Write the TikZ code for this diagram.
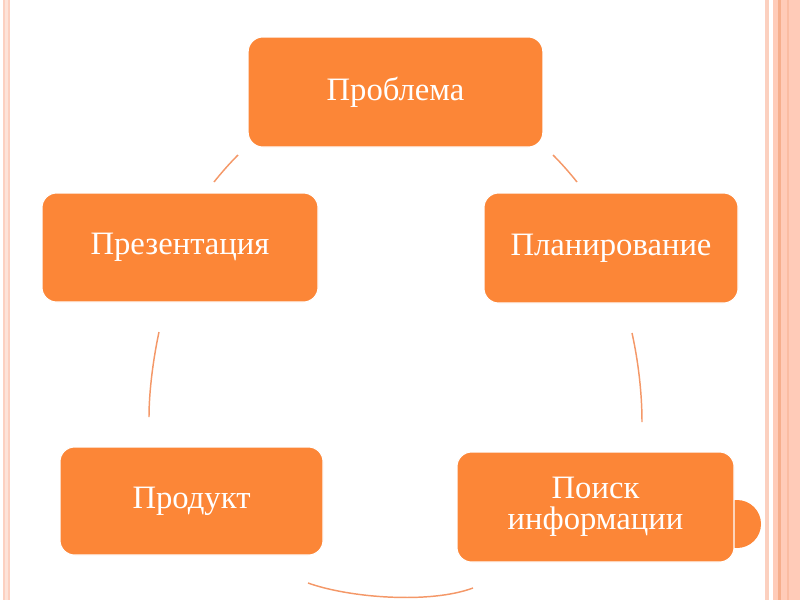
\documentclass[tikz,border=0pt]{standalone}
\usepackage{fontspec}
\setmainfont{Liberation Serif}
\definecolor{boxorange}{RGB}{252,134,55}
\definecolor{arcorange}{RGB}{244,152,104}
\definecolor{peach}{RGB}{255,203,184}
\definecolor{peachdark}{RGB}{246,174,140}
\definecolor{peachmid}{RGB}{250,188,162}
\definecolor{peachline}{RGB}{252,208,192}
\tikzset{
  stagebox/.style={draw=white, line width=0.8pt, fill=boxorange, rounded corners=11pt,
    text=white, font=\fontsize{24.5}{23.5}\selectfont, inner sep=0pt, align=center, anchor=center},
  cyclearc/.style={draw=arcorange, line width=1.1pt},
}
\begin{document}
\begin{tikzpicture}[x=0.75pt,y=-0.75pt]
\useasboundingbox (0,0) rectangle (800,600);
% page borders
\fill[peachline!60] (3.5,0) rectangle (9.5,600);
\draw[peachline, line width=0.9pt] (4,0) -- (4,600);
\draw[peachline, line width=0.9pt] (9,0) -- (9,600);
\fill[peachline] (764.5,0) rectangle (766.8,600);
\fill[peachmid!70] (766.8,0) rectangle (768.8,600);
\fill[peach] (773,0) rectangle (800,600);
\fill[peachdark] (778.3,0) rectangle (781,600);
\fill[peachmid] (786.5,0) rectangle (788.5,600);
% half disc behind search node
\node[circle, fill=boxorange, minimum size=36pt, inner sep=0pt] (tab) at (737,524) {};
% stages
\node[stagebox, minimum width=221pt, minimum height=82.5pt] (problem) at (395.5,92) {Проблема};
\node[stagebox, minimum width=190.5pt, minimum height=82.5pt] (plan) at (611,248) {Планирование};
\node[stagebox, minimum width=207.75pt, minimum height=82.5pt, text width=200pt] (search) at (595.5,507) {Поиск\\информации};
\node[stagebox, minimum width=197.25pt, minimum height=81pt] (product) at (191.5,501) {Продукт};
\node[stagebox, minimum width=207pt, minimum height=81.75pt] (present) at (180,247.5) {Презентация};
% arc end points
\coordinate (a1s) at (553,155); \coordinate (a1e) at (577,182);
\coordinate (a2s) at (632,333); \coordinate (a2e) at (642,422);
\coordinate (a3s) at (473,588); \coordinate (a3e) at (308,583);
\coordinate (a4s) at (149,417); \coordinate (a4e) at (159,332);
\coordinate (a5s) at (214,182); \coordinate (a5e) at (238,155);
% connectors
\draw[cyclearc] (a1s) .. controls (561,163) and (569,172) .. (a1e);
\draw[cyclearc] (a2s) .. controls (638,360) and (642,392) .. (a2e);
\draw[cyclearc] (a3s) .. controls (430,604) and (350,598) .. (a3e);
\draw[cyclearc] (a4s) .. controls (149,392) and (153,360) .. (a4e);
\draw[cyclearc] (a5s) .. controls (222,172) and (230,163) .. (a5e);
\end{tikzpicture}
\end{document}
